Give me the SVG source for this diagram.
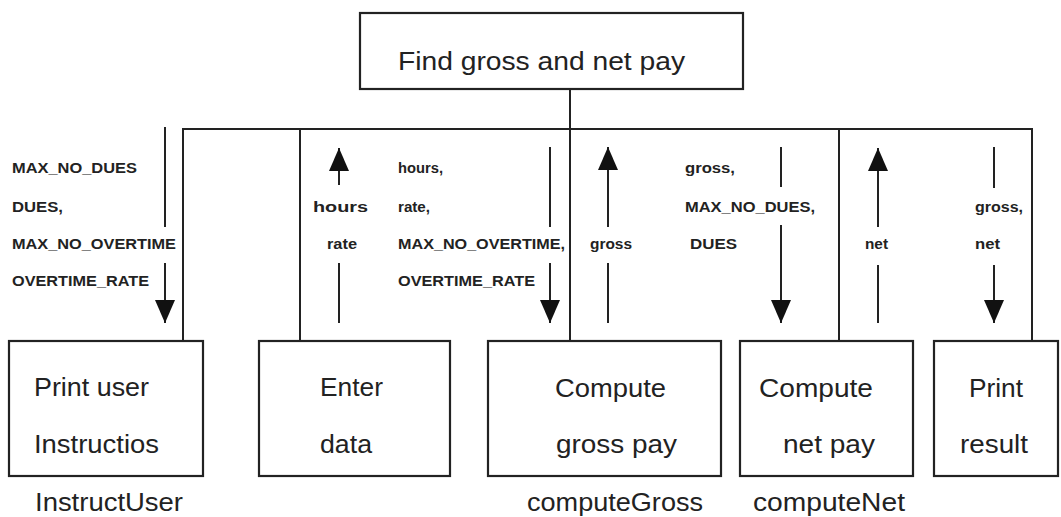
<svg xmlns="http://www.w3.org/2000/svg" width="1061" height="517" viewBox="0 0 1061 517">
<style>
.box{fill:#fff;stroke:#222;stroke-width:2.2}
.ln{stroke:#222;stroke-width:2;fill:none}
.big{font-family:"Liberation Sans",Arial,sans-serif;font-size:25px;fill:#222}
.sm{font-family:"Liberation Sans",Arial,sans-serif;font-size:14px;fill:#222;font-weight:bold}
</style>
<defs>
<marker id="ah" markerUnits="userSpaceOnUse" markerWidth="24" markerHeight="22" refX="23" refY="10" orient="auto" viewBox="0 0 24 20">
<path d="M0,0 L23,10 L0,20 z" fill="#111"/>
</marker>
</defs>
<rect width="1061" height="517" fill="#fff"/>
<g id="connectors">
<line class="ln" x1="570" y1="89" x2="570" y2="129"/>
<line class="ln" x1="182" y1="129" x2="1033" y2="129"/>
<line class="ln" x1="183" y1="129" x2="183" y2="341"/>
<line class="ln" x1="300" y1="129" x2="300" y2="341"/>
<line class="ln" x1="570" y1="129" x2="570" y2="341"/>
<line class="ln" x1="839" y1="129" x2="839" y2="341"/>
<line class="ln" x1="1032" y1="129" x2="1032" y2="341"/>
<line class="ln" x1="165" y1="127" x2="165" y2="227"/>
<line class="ln" x1="165" y1="263" x2="165" y2="323" marker-end="url(#ah)"/>
<line class="ln" x1="339" y1="185" x2="339" y2="148" marker-end="url(#ah)"/>
<line class="ln" x1="339" y1="263" x2="339" y2="323"/>
<line class="ln" x1="550" y1="147" x2="550" y2="227"/>
<line class="ln" x1="550" y1="263" x2="550" y2="323" marker-end="url(#ah)"/>
<line class="ln" x1="608" y1="227" x2="608" y2="147" marker-end="url(#ah)"/>
<line class="ln" x1="608" y1="263" x2="608" y2="323"/>
<line class="ln" x1="781" y1="147" x2="781" y2="187"/>
<line class="ln" x1="781" y1="225" x2="781" y2="323" marker-end="url(#ah)"/>
<line class="ln" x1="878" y1="227" x2="878" y2="148" marker-end="url(#ah)"/>
<line class="ln" x1="878" y1="265" x2="878" y2="323"/>
<line class="ln" x1="994" y1="147" x2="994" y2="188"/>
<line class="ln" x1="994" y1="265" x2="994" y2="323" marker-end="url(#ah)"/>
</g>
<g id="labels">
<text class="sm" x="12" y="173" textLength="125" lengthAdjust="spacingAndGlyphs">MAX_NO_DUES</text>
<text class="sm" x="12" y="212" textLength="51" lengthAdjust="spacingAndGlyphs">DUES,</text>
<text class="sm" x="12" y="249" textLength="164" lengthAdjust="spacingAndGlyphs">MAX_NO_OVERTIME</text>
<text class="sm" x="12" y="286" textLength="137" lengthAdjust="spacingAndGlyphs">OVERTIME_RATE</text>
<text class="sm" x="313" y="212" textLength="55" lengthAdjust="spacingAndGlyphs">hours</text>
<text class="sm" x="327" y="249" textLength="30" lengthAdjust="spacingAndGlyphs">rate</text>
<text class="sm" x="398" y="173" textLength="45" lengthAdjust="spacingAndGlyphs">hours,</text>
<text class="sm" x="398" y="212" textLength="32" lengthAdjust="spacingAndGlyphs">rate,</text>
<text class="sm" x="398" y="249" textLength="167" lengthAdjust="spacingAndGlyphs">MAX_NO_OVERTIME,</text>
<text class="sm" x="398" y="286" textLength="137" lengthAdjust="spacingAndGlyphs">OVERTIME_RATE</text>
<text class="sm" x="590" y="249" textLength="42" lengthAdjust="spacingAndGlyphs">gross</text>
<text class="sm" x="685" y="173" textLength="50" lengthAdjust="spacingAndGlyphs">gross,</text>
<text class="sm" x="685" y="212" textLength="130" lengthAdjust="spacingAndGlyphs">MAX_NO_DUES,</text>
<text class="sm" x="690" y="249" textLength="47" lengthAdjust="spacingAndGlyphs">DUES</text>
<text class="sm" x="865" y="249" textLength="23" lengthAdjust="spacingAndGlyphs">net</text>
<text class="sm" x="975" y="212" textLength="48" lengthAdjust="spacingAndGlyphs">gross,</text>
<text class="sm" x="975" y="249" textLength="25" lengthAdjust="spacingAndGlyphs">net</text>
</g>
<g id="node-main">
<rect class="box" x="360" y="13" width="383" height="76"/>
<text class="big" x="398" y="70" textLength="287" lengthAdjust="spacingAndGlyphs">Find gross and net pay</text>
</g>
<g id="node-instructUser">
<rect class="box" x="9" y="341" width="194" height="135"/>
<text class="big" x="34" y="396" textLength="115" lengthAdjust="spacingAndGlyphs">Print user</text>
<text class="big" x="34" y="453" textLength="125" lengthAdjust="spacingAndGlyphs">Instructios</text>
<text class="big" x="35" y="511" textLength="148" lengthAdjust="spacingAndGlyphs">InstructUser</text>
</g>
<g id="node-enterData">
<rect class="box" x="259" y="341" width="191" height="135"/>
<text class="big" x="320" y="396" textLength="63" lengthAdjust="spacingAndGlyphs">Enter</text>
<text class="big" x="320" y="453" textLength="52" lengthAdjust="spacingAndGlyphs">data</text>
</g>
<g id="node-computeGross">
<rect class="box" x="488" y="341" width="233" height="135"/>
<text class="big" x="555" y="397" textLength="111" lengthAdjust="spacingAndGlyphs">Compute</text>
<text class="big" x="556" y="453" textLength="121" lengthAdjust="spacingAndGlyphs">gross pay</text>
<text class="big" x="527" y="511" textLength="176" lengthAdjust="spacingAndGlyphs">computeGross</text>
</g>
<g id="node-computeNet">
<rect class="box" x="740" y="341" width="173" height="135"/>
<text class="big" x="759" y="397" textLength="114" lengthAdjust="spacingAndGlyphs">Compute</text>
<text class="big" x="783" y="453" textLength="92" lengthAdjust="spacingAndGlyphs">net pay</text>
<text class="big" x="753" y="511" textLength="152" lengthAdjust="spacingAndGlyphs">computeNet</text>
</g>
<g id="node-printResult">
<rect class="box" x="934" y="341" width="124" height="135"/>
<text class="big" x="969" y="397" textLength="54" lengthAdjust="spacingAndGlyphs">Print</text>
<text class="big" x="960" y="453" textLength="68" lengthAdjust="spacingAndGlyphs">result</text>
</g>
</svg>
